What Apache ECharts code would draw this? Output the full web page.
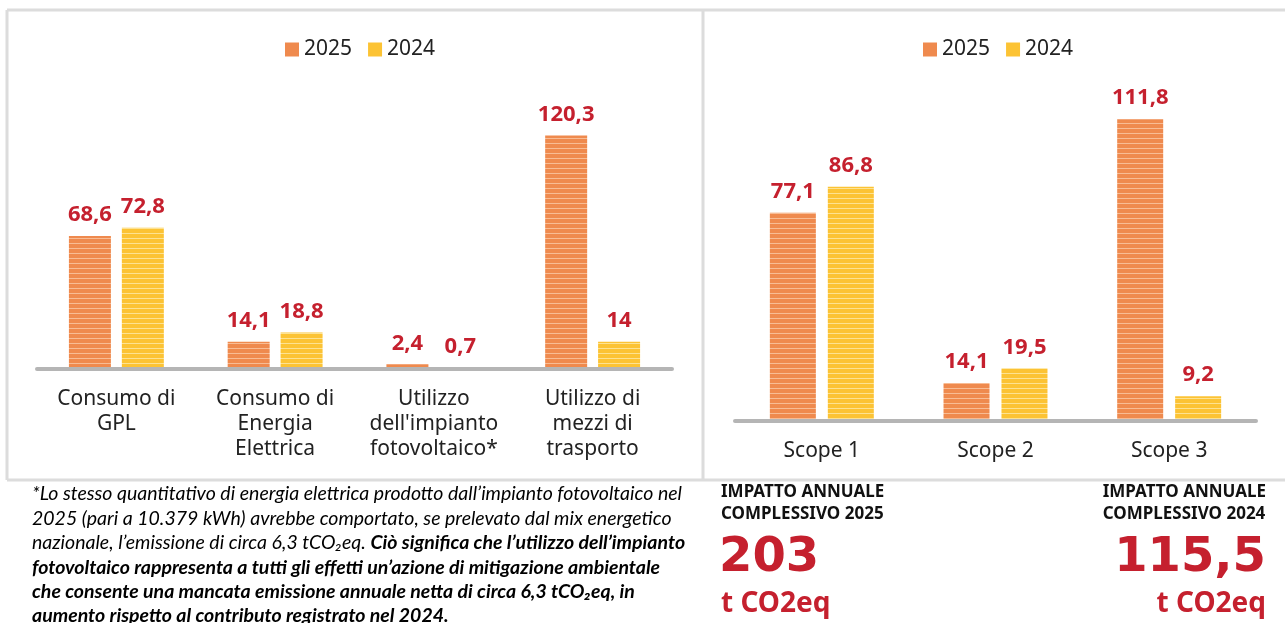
<!DOCTYPE html>
<html>
<head>
<meta charset="utf-8">
<script src="https://cdn.jsdelivr.net/npm/echarts@6/dist/echarts.min.js"></script>
<style>
  html, body { margin: 0; padding: 0; background: #fff; }
  #chart { width: 1285px; height: 623px; }
</style>
</head>
<body>
<div id="chart"></div>
<script>
// left chart: sources
const catsLeft = ['Consumo di\nGPL', 'Consumo di\nEnergia\nElettrica', 'Utilizzo\ndell\'impianto\nfotovoltaico*', 'Utilizzo di\nmezzi di\ntrasporto'];
const left2025 = [68.6, 14.1, 2.4, 120.3];
const left2024 = [72.8, 18.8, 0.7, 14];

// right chart: scopes
const catsRight = ['Scope 1', 'Scope 2', 'Scope 3'];
const right2025 = [77.1, 14.1, 111.8];
const right2024 = [86.8, 19.5, 9.2];

const years = ['2025', '2024'];
const totals = ['203', '115,5'];

const ORANGE = '#ef8a4e';
const YELLOW = '#fcc334';
const RED = '#c5202e';

function stripes(base, light) {
  const c = document.createElement('canvas');
  c.width = 4; c.height = 5;
  const ctx = c.getContext('2d');
  ctx.fillStyle = base;
  ctx.fillRect(0, 0, 4, 5);
  ctx.fillStyle = light;
  ctx.fillRect(0, 3, 4, 1);
  return { image: c, repeat: 'repeat' };
}
const orangeFill = stripes(ORANGE, '#f8bc94');
const yellowFill = stripes(YELLOW, '#fde291');

const fmt = p => String(p.value).replace('.', ',');

const labelStyle = {
  show: true, position: 'top', distance: 10, formatter: fmt,
  color: RED, fontSize: 22, fontWeight: 'bold', fontFamily: 'Noto Sans'
};

function bars(name, data, fill, xIdx, width) {
  return {
    name: name, type: 'bar', xAxisIndex: xIdx, yAxisIndex: xIdx,
    data: data, barWidth: width, barGap: '26%',
    itemStyle: { color: fill },
    label: labelStyle
  };
}

const legendCommon = {
  itemWidth: 14, itemHeight: 14, itemGap: 16,
  textStyle: { fontSize: 21, color: '#222', fontFamily: 'Noto Sans' },
  data: [
    { name: '2025', icon: 'rect', itemStyle: { color: ORANGE } },
    { name: '2024', icon: 'rect', itemStyle: { color: YELLOW } }
  ]
};

const axisCommon = {
  type: 'category',
  axisTick: { show: false },
  axisLine: { lineStyle: { color: '#b5b5b5', width: 4 } },
  axisLabel: { fontSize: 21, lineHeight: 25, color: '#222', fontFamily: 'Noto Sans', interval: 0 },
  z: 5
};

const border = { stroke: '#dcdcdc', lineWidth: 3 };
const noteBase = { fontFamily: 'Lato', fontStyle: 'italic', fontSize: 19.5, lineHeight: 24.4, color: '#6a6a6a' };

const chart = echarts.init(document.getElementById('chart'));
chart.setOption({
  animation: false,
  legend: [
    Object.assign({ left: 280, top: 34 }, legendCommon),
    Object.assign({ left: 918, top: 34 }, legendCommon)
  ],
  grid: [
    { left: 37, right: 613, top: 78, bottom: 254 },
    { left: 735, right: 29, top: 70, bottom: 202 }
  ],
  xAxis: [
    Object.assign({ gridIndex: 0, data: catsLeft }, axisCommon, { axisLabel: Object.assign({}, axisCommon.axisLabel, { margin: 18 }) }),
    Object.assign({ gridIndex: 1, data: catsRight }, axisCommon, { axisLabel: Object.assign({}, axisCommon.axisLabel, { margin: 18 }) })
  ],
  yAxis: [
    { gridIndex: 0, type: 'value', min: 0, max: 150, show: false },
    { gridIndex: 1, type: 'value', min: 0, max: 130, show: false }
  ],
  series: [
    bars(years[0], left2025, orangeFill, 0, 42),
    bars(years[1], left2024, yellowFill, 0, 42),
    bars(years[0], right2025, orangeFill, 1, 46),
    bars(years[1], right2024, yellowFill, 1, 46)
  ],
  graphic: [
    // panel frames
    { type: 'line', shape: { x1: 7, y1: 10, x2: 1285, y2: 10 }, style: border, silent: true },
    { type: 'line', shape: { x1: 7, y1: 10, x2: 7, y2: 480 }, style: border, silent: true },
    { type: 'line', shape: { x1: 7, y1: 480, x2: 1285, y2: 480 }, style: border, silent: true },
    { type: 'line', shape: { x1: 703, y1: 10, x2: 703, y2: 480 }, style: border, silent: true },
    // footnote
    {
      type: 'text', left: 32, top: 482, silent: true,
      style: Object.assign({}, noteBase, {
        text: [
          '*Lo stesso quantitativo di energia elettrica prodotto dall\u2019impianto fotovoltaico nel',
          '2025 (pari a 10.379 kWh) avrebbe comportato, se prelevato dal mix energetico',
          'nazionale, l\u2019emissione di circa 6,3 tCO\u2082eq. {b|Ci\u00f2 significa che l\u2019utilizzo dell\u2019impianto}',
          '{b|fotovoltaico rappresenta a tutti gli effetti un\u2019azione di mitigazione ambientale}',
          '{b|che consente una mancata emissione annuale netta di circa 6,3 tCO\u2082eq, in}',
          '{b|aumento rispetto al contributo registrato nel 2024.}'
        ].join('\n'),
        rich: {
          b: Object.assign({}, noteBase, { fontWeight: 'bold', color: '#1a1a1a' })
        }
      })
    },
    // totals
    {
      type: 'text', left: 721, top: 481, silent: true,
      style: { text: 'IMPATTO ANNUALE\nCOMPLESSIVO ' + years[0], fontFamily: 'Noto Sans', fontWeight: 'bold', fontSize: 17, lineHeight: 22, fill: '#111' }
    },
    {
      type: 'text', left: 719, top: 535, silent: true,
      style: { text: totals[0], fontFamily: 'DejaVu Sans', fontWeight: 'bold', fontSize: 48, fill: RED }
    },
    {
      type: 'text', left: 721, top: 590, silent: true,
      style: { text: 't CO2eq', fontFamily: 'Noto Sans', fontWeight: 'bold', fontSize: 28, fill: RED }
    },
    {
      type: 'text', right: 19, top: 481, silent: true,
      style: { text: 'IMPATTO ANNUALE\nCOMPLESSIVO ' + years[1], align: 'right', fontFamily: 'Noto Sans', fontWeight: 'bold', fontSize: 17, lineHeight: 22, fill: '#111' }
    },
    {
      type: 'text', right: 19, top: 535, silent: true,
      style: { text: totals[1], align: 'right', fontFamily: 'DejaVu Sans', fontWeight: 'bold', fontSize: 48, fill: RED }
    },
    {
      type: 'text', right: 19, top: 590, silent: true,
      style: { text: 't CO2eq', align: 'right', fontFamily: 'Noto Sans', fontWeight: 'bold', fontSize: 28, fill: RED }
    }
  ]
});
</script>
</body>
</html>
